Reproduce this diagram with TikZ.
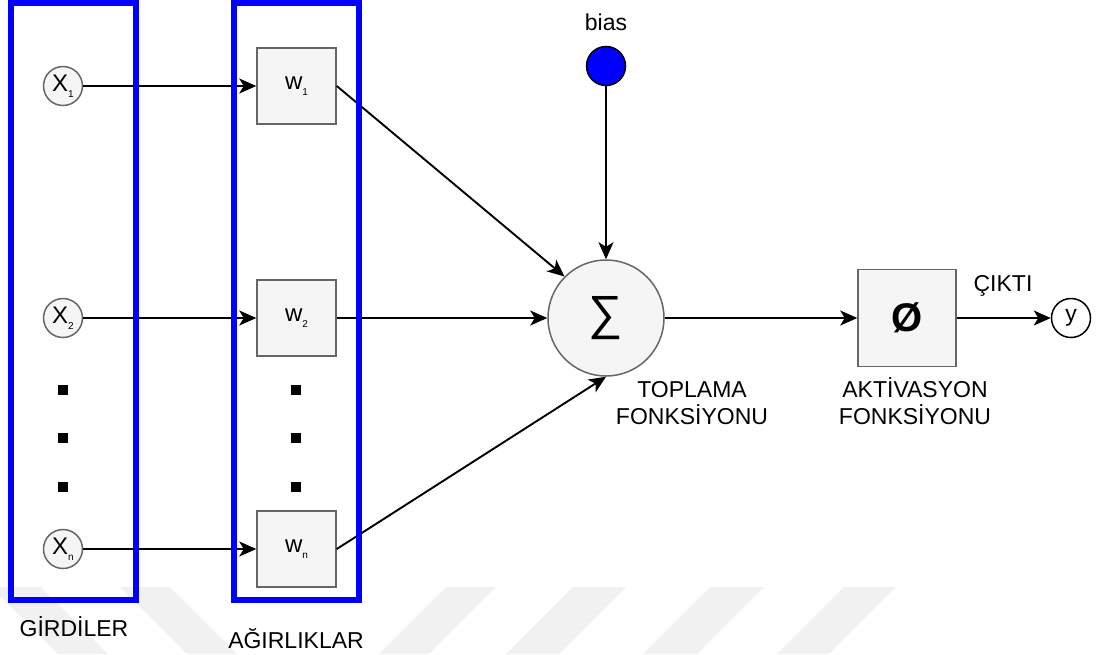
\documentclass[tikz,border=0pt]{standalone}
\usepackage{fontspec}
\setmainfont{Liberation Sans}
\usetikzlibrary{arrows.meta}
\definecolor{bord}{HTML}{666666}
\definecolor{lightf}{HTML}{F5F5F5}
\definecolor{wm}{HTML}{F1F1F1}
\definecolor{pureblue}{HTML}{0000FF}
\newcommand{\subx}[2]{{\fontsize{24}{24}\selectfont #1}\raisebox{-6pt}{\fontsize{10}{10}\selectfont #2}}
\tikzset{
  every node/.style={font=\fontsize{23}{27}\selectfont, inner sep=0pt},
  inpt/.style={circle, draw=bord, fill=lightf, line width=1.5pt, minimum size=39pt},
  wbox/.style={rectangle, draw=bord, fill=lightf, line width=1.5pt, minimum width=79pt, minimum height=76pt},
  dotsq/.style={rectangle, fill=black, minimum size=10pt},
  grp/.style={rectangle, draw=pureblue, line width=6pt, minimum width=125pt, minimum height=597pt},
  arr/.style={-{Stealth[length=17pt,width=15pt,inset=4.5pt]}, line width=1.9pt},
  wmark/.style={fill=wm}
}
\begin{document}
\begin{tikzpicture}[x=1pt,y=-1pt]
\useasboundingbox (0,0) rectangle (1102,654);
% watermark stripes
\fill[wmark] (-9,587) -- (41,587) -- (108,654) -- (58,654) -- cycle;
\fill[wmark] (120,587) -- (170,587) -- (237,654) -- (187,654) -- cycle;
\fill[wmark] (446,587) -- (496,587) -- (429,654) -- (379,654) -- cycle;
\fill[wmark] (573,587) -- (626,587) -- (559,654) -- (506,654) -- cycle;
\fill[wmark] (710,587) -- (764,587) -- (697,654) -- (643,654) -- cycle;
\fill[wmark] (844,587) -- (896,587) -- (829,654) -- (777,654) -- cycle;

% inputs
\node[inpt] (x1) at (63,86) {\subx{X}{1}};
\node[inpt] (x2) at (63,318) {\subx{X}{2}};
\node[inpt] (xn) at (63,549) {\subx{X}{n}};
\node[dotsq] (xd1) at (63,390) {};
\node[dotsq] (xd2) at (63,438) {};
\node[dotsq] (xd3) at (63,487) {};

% weights
\node[wbox] (w1) at (296.5,86) {\subx{w}{1}};
\node[wbox] (w2) at (296.5,318) {\subx{w}{2}};
\node[wbox] (wn) at (296.5,549) {\subx{w}{n}};
\node[dotsq] (wd1) at (295.5,390) {};
\node[dotsq] (wd2) at (295.5,438) {};
\node[dotsq] (wd3) at (295.5,487) {};

% summation
\node[circle, draw=bord, fill=lightf, line width=1.5pt, minimum size=116pt] (sum) at (606,318) {\fontsize{48}{48}\selectfont ∑};
\node[circle, draw=black, fill=pureblue, line width=1.5pt, minimum size=39pt] (bias) at (606,66) {};
\node (biaslbl) at (606,22) {bias};
\node[align=center] (toplbl) at (692,403.5) {TOPLAMA\\FONKSİYONU};

% activation
\node[rectangle, draw=bord, fill=lightf, line width=1.5pt, minimum width=98pt, minimum height=97pt] (phi) at (907,318) {\fontsize{40}{40}\selectfont\bfseries Ø};
\node[align=center] (aktlbl) at (915,401.5) {AKTİVASYON\\FONKSİYONU};
\node[circle, draw=black, fill=white, line width=1.5pt, minimum size=39pt] (y) at (1071,318) {y};
\node (outlbl) at (1003,286) {ÇIKTI};

% connectors
\draw[arr] (x1) -- (w1);
\draw[arr] (x2) -- (w2);
\draw[arr] (xn) -- (wn);
\draw[arr] (w1.east) -- (sum.north west);
\draw[arr] (w2) -- (sum);
\draw[arr] (wn.east) -- (sum.south);
\draw[arr] (bias) -- (sum);
\draw[arr] (sum) -- (phi);
\draw[arr] (phi) -- (y);

% group frames
\node[grp] (ginp) at (73.5,301.5) {};
\node[grp] (gw) at (296.5,301.5) {};
\node (ginplbl) at (74,627) {GİRDİLER};
\node (gwlbl) at (296,639) {AĞIRLIKLAR};
\end{tikzpicture}
\end{document}
